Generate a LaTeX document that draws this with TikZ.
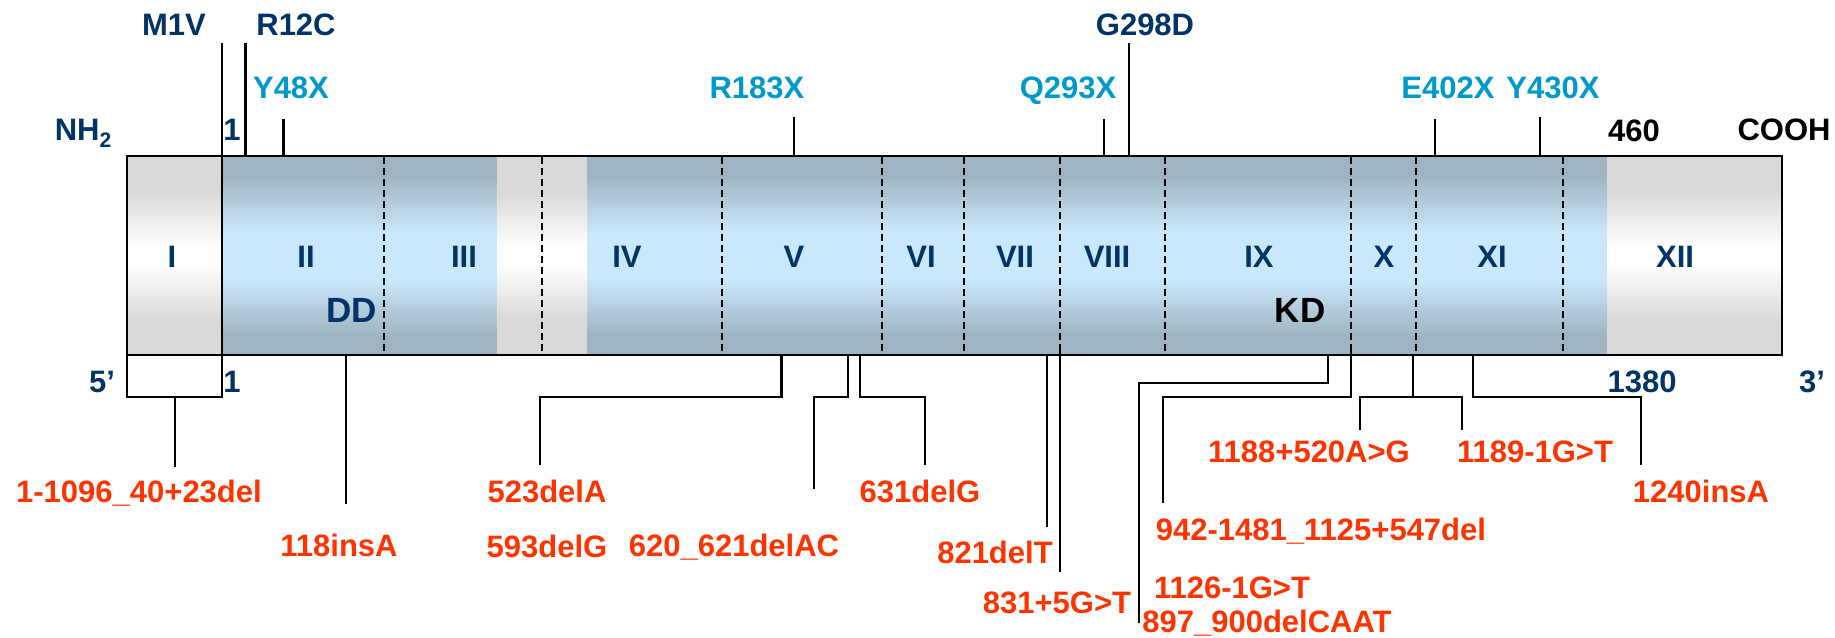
\documentclass[tikz,border=0pt]{standalone}
\usepackage{fontspec}
\setmainfont{Liberation Sans}
\definecolor{navy}{HTML}{003366}
\definecolor{cyanlbl}{HTML}{0099CC}
\definecolor{orangelbl}{HTML}{FF3300}
\definecolor{bandA}{HTML}{9EB4C2}
\definecolor{bandB}{HTML}{CAE8FB}
\definecolor{grayA}{HTML}{D9D9D9}
\pgfdeclareverticalshading{bluebar}{100bp}{color(0bp)=(bandA); color(30bp)=(bandA); color(44bp)=(bandB); color(56bp)=(bandB); color(70bp)=(bandA); color(100bp)=(bandA)}
\pgfdeclareverticalshading{graybar}{100bp}{color(0bp)=(grayA); color(34bp)=(grayA); color(48bp)=(white); color(52bp)=(white); color(66bp)=(grayA); color(100bp)=(grayA)}
\tikzset{
  txt/.style={font=\fontsize{31}{31}\selectfont\bfseries, inner sep=0pt, anchor=base},
  tnavy/.style={txt, text=navy},
  tcyan/.style={txt, text=cyanlbl},
  tblack/.style={txt, text=black},
  torange/.style={txt, text=orangelbl},
  tbig/.style={txt, font=\fontsize{35}{35}\selectfont\bfseries},
  wire/.style={line width=2.4pt, line cap=rect},
  sepline/.style={line width=1.8pt, dash pattern=on 7pt off 4pt}
}
\begin{document}
\begin{tikzpicture}[x=1pt,y=-1pt]
\useasboundingbox (0,0) rectangle (1835,637);
% bands
\shade[shading=graybar] (127,156) rectangle (222,355);
\shade[shading=bluebar] (222,156) rectangle (497,355);
\shade[shading=graybar] (497,156) rectangle (587,355);
\shade[shading=bluebar] (587,156) rectangle (1607,355);
\shade[shading=graybar] (1607,156) rectangle (1782,355);
% dashed separators
\foreach \xx in {384,542,722,882,964,1060,1165,1351,1416,1563}
  \draw[sepline] (\xx,157) -- (\xx,355);
\draw[line width=2.2pt] (127,156) rectangle (1782,355);

% top labels
\node[tnavy] (m1v) at (174,35) {M1V};
\node[tnavy] (r12c) at (296,35) {R12C};
\node[tnavy] (g298d) at (1145,35) {G298D};
\node[tcyan] (y48x) at (291,98) {Y48X};
\node[tcyan] (r183x) at (757,98) {R183X};
\node[tcyan] (q293x) at (1068,98) {Q293X};
\node[tcyan] (e402x) at (1448,98) {E402X};
\node[tcyan] (y430x) at (1553,98) {Y430X};
\node[tnavy] (nh2) at (83,140) {NH\raisebox{-7pt}{\fontsize{21}{21}\selectfont 2}};
\node[tnavy] (onetop) at (232,140) {1};
\node[tblack] (n460) at (1634,141) {460};
\node[tblack] (cooh) at (1784,140) {COOH};

% exon numerals
\node[tnavy] (e1) at (172,267) {I};
\node[tnavy] (e2) at (306,267) {II};
\node[tnavy] (e3) at (464,267) {III};
\node[tnavy] (e4) at (627,267) {IV};
\node[tnavy] (e5) at (794,267) {V};
\node[tnavy] (e6) at (921,267) {VI};
\node[tnavy] (e7) at (1015,267) {VII};
\node[tnavy] (e8) at (1107,267) {VIII};
\node[tnavy] (e9) at (1259,267) {IX};
\node[tnavy] (e10) at (1384,267) {X};
\node[tnavy] (e11) at (1492,267) {XI};
\node[tnavy] (e12) at (1675,267) {XII};
\node[tbig, text=navy] (dd) at (352,322) {DD};
\node[tbig, text=black] (kd) at (1300,322) {KD};

% bottom numbers
\node[tnavy] (five) at (102,392) {5’};
\node[tnavy] (onebot) at (232,392) {1};
\node[tnavy] (n1380) at (1642,392) {1380};
\node[tnavy] (three) at (1812,392) {3’};

% mutation labels
\node[torange] (d1) at (139,502) {1-1096\_40+23del};
\node[torange] (d2) at (339,556) {118insA};
\node[torange] (d3) at (547,502) {523delA};
\node[torange] (d4) at (547,557) {593delG};
\node[torange] (d5) at (734,556) {620\_621delAC};
\node[torange] (d6) at (920,502) {631delG};
\node[torange] (d7) at (995,563) {821delT};
\node[torange] (d8) at (1057,613) {831+5G>T};
\node[torange] (d9) at (1321,540) {942-1481\_1125+547del};
\node[torange] (d10) at (1232,598) {1126-1G>T};
\node[torange] (d11) at (1267,632) {897\_900delCAAT};
\node[torange] (d12) at (1309,462) {1188+520A>G};
\node[torange] (d13) at (1535,462) {1189-1G>T};
\node[torange] (d14) at (1701,502) {1240insA};

% coordinates of top ticks
\coordinate (m1vT) at (222,44);   \coordinate (m1vB) at (222,397);
\coordinate (r12cT) at (245.5,44); \coordinate (r12cB) at (245.5,156);
\coordinate (y48xT) at (283.5,120); \coordinate (y48xB) at (283.5,156);
\coordinate (r183xT) at (794,118); \coordinate (r183xB) at (794,156);
\coordinate (q293xT) at (1104,120); \coordinate (q293xB) at (1104,156);
\coordinate (g298dT) at (1129,44); \coordinate (g298dB) at (1129,156);
\coordinate (e402xT) at (1435,120); \coordinate (e402xB) at (1435,156);
\coordinate (y430xT) at (1540,118); \coordinate (y430xB) at (1540,156);
\draw[wire] (m1vT) -- (m1vB);
\draw[wire] (r12cT) -- (r12cB);
\draw[wire] (y48xT) -- (y48xB);
\draw[wire] (r183xT) -- (r183xB);
\draw[wire] (q293xT) -- (q293xB);
\draw[wire] (g298dT) -- (g298dB);
\draw[wire] (e402xT) -- (e402xB);
\draw[wire] (y430xT) -- (y430xB);

% bottom connectors
\coordinate (b1a) at (127,355); \coordinate (b1b) at (127,397);
\coordinate (b1s) at (175,397); \coordinate (b1e) at (175,466);
\draw[wire] (b1a) -- (b1b) -- (m1vB);
\draw[wire] (b1s) -- (b1e);

\coordinate (b2a) at (346,355); \coordinate (b2e) at (346,503);
\draw[wire] (b2a) -- (b2e);

\coordinate (b3a) at (781.5,355); \coordinate (b3b) at (781.5,397);
\coordinate (b3c) at (540,397); \coordinate (b3e) at (540,464);
\draw[wire] (b3a) -- (b3b) -- (b3c) -- (b3e);

\coordinate (b5a) at (848,355); \coordinate (b5b) at (848,397);
\coordinate (b5c) at (814,397); \coordinate (b5e) at (814,488);
\draw[wire] (b5a) -- (b5b) -- (b5c) -- (b5e);

\coordinate (b6a) at (860,355); \coordinate (b6b) at (860,397);
\coordinate (b6c) at (925,397); \coordinate (b6e) at (925,464);
\draw[wire] (b6a) -- (b6b) -- (b6c) -- (b6e);

\coordinate (b7a) at (1047,355); \coordinate (b7e) at (1047,526);
\draw[wire] (b7a) -- (b7e);

\coordinate (b8a) at (1060,351); \coordinate (b8e) at (1060,571);
\draw[wire] (b8a) -- (b8e);

\coordinate (b11a) at (1328,355); \coordinate (b11b) at (1328,383);
\coordinate (b11c) at (1139,383); \coordinate (b11e) at (1139,622);
\draw[wire] (b11a) -- (b11b) -- (b11c) -- (b11e);

\coordinate (b9a) at (1351,351); \coordinate (b9b) at (1351,397);
\coordinate (b9c) at (1163,397); \coordinate (b9e) at (1163,502);
\draw[wire] (b9a) -- (b9b) -- (b9c) -- (b9e);

\coordinate (b12a) at (1413,355); \coordinate (b12b) at (1413,397);
\coordinate (b12l) at (1360,397); \coordinate (b12le) at (1360,429);
\coordinate (b12r) at (1462,397); \coordinate (b12re) at (1462,429);
\draw[wire] (b12a) -- (b12b);
\draw[wire] (b12le) -- (b12l) -- (b12r) -- (b12re);

\coordinate (b14a) at (1473,355); \coordinate (b14b) at (1473,397);
\coordinate (b14c) at (1641,397); \coordinate (b14e) at (1641,464);
\draw[wire] (b14a) -- (b14b) -- (b14c) -- (b14e);
\end{tikzpicture}
\end{document}
